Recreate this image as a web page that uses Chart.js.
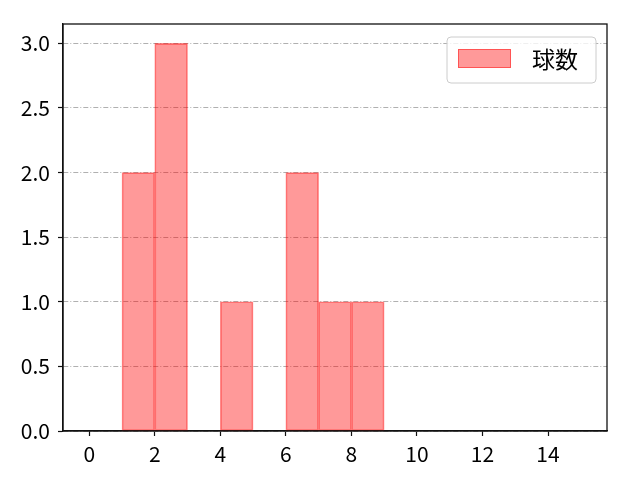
<!DOCTYPE html>
<html>
<head>
<meta charset="utf-8">
<script src="https://cdn.jsdelivr.net/npm/chart.js@4"></script>
<style>
  html, body { margin: 0; padding: 0; background: #fff; }
  #wrap { width: 640px; height: 480px; }
</style>
</head>
<body>
<div id="wrap"><canvas id="hist-chart"></canvas></div>
<script>
var binStarts = [1, 2, 3, 4, 5, 6, 7, 8];
var counts = [2, 3, 0, 1, 0, 2, 1, 1];
var xTicks = [0, 2, 4, 6, 8, 10, 12, 14];
var yTicks = [0, 0.5, 1.0, 1.5, 2.0, 2.5, 3.0];
var seriesLabel = '球数';

var points = binStarts.map(function (s, i) {
  return { x: s + 0.5, y: counts[i] };
});

var tickFont = { family: "'Noto Sans CJK JP', 'DejaVu Sans', sans-serif", size: 21 };

// frame on all four sides, like matplotlib spines
var framePlugin = {
  id: 'frame',
  afterDraw: function (chart) {
    var a = chart.chartArea, ctx = chart.ctx;
    ctx.save();
    ctx.strokeStyle = '#111';
    ctx.lineWidth = 1.3;
    ctx.strokeRect(a.left, a.top, a.right - a.left, a.bottom - a.top);
    ctx.restore();
  }
};

// legend box in the top-right corner of the plot
var legendPlugin = {
  id: 'innerLegend',
  afterDraw: function (chart) {
    var a = chart.chartArea, ctx = chart.ctx;
    var ds = chart.data.datasets[0];
    var w = 149, h = 46;
    var x = a.right - 11 - w, y = a.top + 13;
    ctx.save();
    ctx.beginPath();
    ctx.roundRect(x, y, w, h, 4);
    ctx.fillStyle = 'rgba(255,255,255,0.8)';
    ctx.fill();
    ctx.strokeStyle = '#cccccc';
    ctx.lineWidth = 1;
    ctx.stroke();
    ctx.fillStyle = ds.backgroundColor;
    ctx.fillRect(x + 11, y + 12, 53, 19);
    ctx.strokeStyle = ds.borderColor;
    ctx.strokeRect(x + 11.5, y + 12.5, 52, 18);
    ctx.fillStyle = '#000';
    ctx.font = "23px 'Noto Sans CJK JP', sans-serif";
    ctx.textBaseline = 'middle';
    ctx.fillText(ds.label, x + 85, y + 22);
    ctx.restore();
  }
};

var context = document.getElementById('hist-chart').getContext('2d');
var chart = new Chart(context, {
  type: 'bar',
  data: {
    datasets: [
      {
        label: seriesLabel,
        data: points,
        backgroundColor: 'rgba(255,0,0,0.4)',
        borderColor: 'rgba(255,0,0,0.45)',
        borderWidth: 1,
        borderSkipped: false,
        barPercentage: 1,
        categoryPercentage: 1,
      }
    ],
  },
  options: {
    animation: false,
    responsive: true,
    maintainAspectRatio: false,
    layout: {
      padding: { left: 0, top: 24, right: 33, bottom: 0 }
    },
    plugins: {
      legend: { display: false },
      tooltip: { enabled: false },
    },
    scales: {
      x: {
        type: 'linear',
        offset: false,
        min: -0.8,
        max: 15.8,
        afterBuildTicks: function (axis) {
          axis.ticks = xTicks.map(function (v) { return { value: v }; });
        },
        afterFit: function (axis) { axis.height = 49; },
        grid: {
          offset: false,
          drawOnChartArea: false,
          tickLength: 5,
          tickColor: '#111',
          tickWidth: 1.2,
        },
        border: { color: '#111', width: 1.3 },
        ticks: {
          color: '#000',
          font: tickFont,
          padding: 5,
          maxRotation: 0,
          autoSkip: false,
        }
      },
      y: {
        min: 0,
        max: 3.15,
        afterBuildTicks: function (axis) {
          axis.ticks = yTicks.map(function (v) { return { value: v }; });
        },
        afterFit: function (axis) { axis.width = 63; },
        grid: {
          color: '#b0b0b0',
          lineWidth: 1,
          tickLength: 5,
          tickColor: '#111',
          tickWidth: 1.2,
          tickBorderDash: [],
        },
        border: { color: '#111', width: 1.3, dash: [5, 2, 1, 2] },
        ticks: {
          color: '#000',
          font: tickFont,
          padding: 8,
          callback: function (v) { return v.toFixed(1); }
        }
      }
    },
  },
  plugins: [framePlugin, legendPlugin]
});
</script>
</body>
</html>
